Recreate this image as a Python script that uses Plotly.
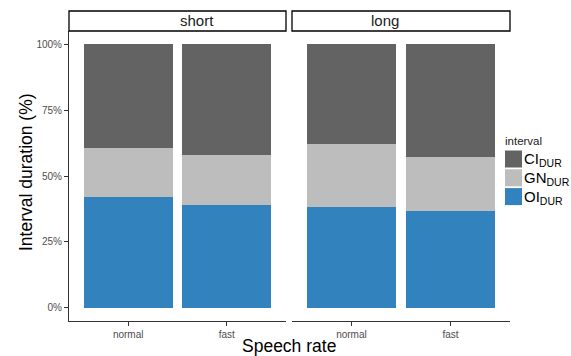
import plotly.graph_objects as go

rates = ["normal", "fast"]
facets = ["short", "long"]
intervals = ["OI<sub>DUR</sub>", "GN<sub>DUR</sub>", "CI<sub>DUR</sub>"]
colors = ["#3182bd", "#bdbdbd", "#636363"]
# proportions per facet: [normal, fast]
values = {
    "short": {"OI": [0.422, 0.391], "GN": [0.184, 0.190], "CI": [0.394, 0.419]},
    "long": {"OI": [0.381, 0.366], "GN": [0.240, 0.205], "CI": [0.379, 0.429]},
}
keys = ["OI", "GN", "CI"]
yticks = [0, 0.25, 0.5, 0.75, 1.0]
yticklabels = ["0%", "25%", "50%", "75%", "100%"]

W, H = 571, 356
ml, mr, mt, mb = 69, 61, 31, 35
pw = W - ml - mr
ph = H - mt - mb
d1 = (286 - ml) / pw
d2 = (292 - ml) / pw

fig = go.Figure()
for fi, f in enumerate(facets):
    xa = "x" if fi == 0 else "x2"
    ya = "y" if fi == 0 else "y2"
    for k, name, c in zip(keys, intervals, colors):
        fig.add_trace(go.Bar(
            x=[1, 2], y=values[f][k], name=name, marker_color=c,
            marker_line_width=0, width=0.9, xaxis=xa, yaxis=ya,
            showlegend=False,
        ))

font = "Arial, Liberation Sans, sans-serif"
tickfont = dict(size=10, color="#4d4d4d", family=font)
axis_common = dict(
    range=[0.4, 2.6], tickvals=[1, 2], ticktext=rates, showgrid=False,
    zeroline=False, showline=True, linecolor="#333333", linewidth=1,
    ticks="outside", ticklen=4, tickcolor="#333333", tickfont=tickfont,
)
fig.update_layout(
    width=W, height=H, barmode="stack",
    margin=dict(l=ml, r=mr, t=mt, b=mb, pad=0),
    plot_bgcolor="white", paper_bgcolor="white",
    font=dict(family=font),
    xaxis=dict(domain=[0, d1], anchor="y", **axis_common),
    xaxis2=dict(domain=[d2, 1], anchor="y2", **axis_common),
    yaxis=dict(range=[-0.05, 1.05], tickvals=yticks, ticktext=yticklabels,
               showgrid=False, zeroline=False, showline=True, linecolor="#333333",
               linewidth=1, ticks="outside", ticklen=4, tickcolor="#333333",
               tickfont=tickfont),
    yaxis2=dict(range=[-0.05, 1.05], anchor="x2", showgrid=False, zeroline=False,
                showline=False, showticklabels=False, ticks=""),
    showlegend=False,
)

def px(xp):
    return (xp - ml) / pw

def py(yp):
    return (H - mb - yp) / ph

# facet strips
for f, (a, b) in zip(facets, [(0, d1), (d2, 1)]):
    fig.add_shape(type="rect", xref="paper", yref="paper", x0=a, x1=b,
                  y0=1.0, y1=1 + 20 / ph, line=dict(color="black", width=1.3),
                  fillcolor="white")
    fig.add_annotation(text=f, xref="paper", yref="paper", x=(a + b) / 2,
                       y=1 + 10 / ph, showarrow=False, yanchor="middle",
                       font=dict(size=15, color="#1a1a1a", family=font))

# legend (manual, ggplot-style keys)
fig.add_annotation(text="interval", xref="paper", yref="paper", x=px(503),
                   y=py(141), xanchor="left", yanchor="middle", showarrow=False,
                   font=dict(size=11.5, color="#1a1a1a", family=font))
order = list(range(len(keys)))[::-1]
for j, i in enumerate(order):
    top = 150.5 + j * 18.8
    fig.add_shape(type="rect", xref="paper", yref="paper", x0=px(505), x1=px(522),
                  y0=py(top + 17), y1=py(top), line=dict(width=0),
                  fillcolor=colors[i])
    fig.add_annotation(text=intervals[i], xref="paper", yref="paper", x=px(522),
                       y=py(top + 9), xanchor="left", yanchor="middle",
                       showarrow=False, font=dict(size=15, color="black", family=font))

fig.add_annotation(text="Interval duration (%)", xref="paper", yref="paper",
                   x=px(26), y=py(172), textangle=-90,
                   showarrow=False, xanchor="center", yanchor="middle",
                   font=dict(size=17.5, color="black", family=font))
fig.add_annotation(text="Speech rate", xref="paper", yref="paper",
                   x=px(289), y=py(346), showarrow=False,
                   xanchor="center", yanchor="middle",
                   font=dict(size=17.5, color="black", family=font))

fig.write_html("out.html", config={"displayModeBar": False},
               post_script="document.body.style.margin='0';document.body.style.overflow='hidden';")
